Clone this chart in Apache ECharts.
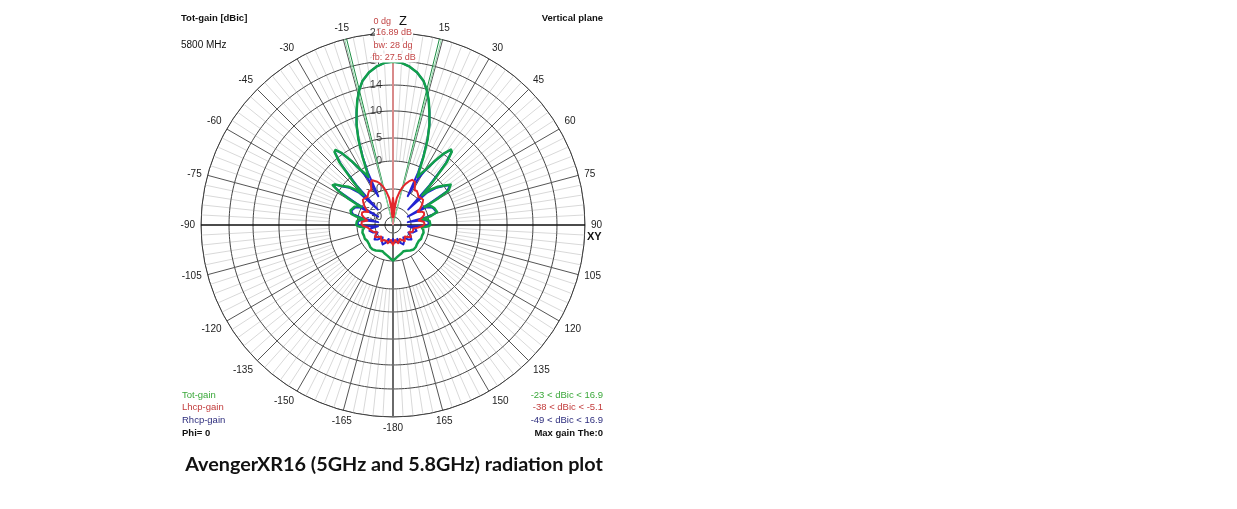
<!DOCTYPE html>
<html><head><meta charset="utf-8">
<script src="https://cdn.jsdelivr.net/npm/echarts@6/dist/echarts.min.js"></script>
<style>html,body{margin:0;padding:0;background:#fff}#c{width:1237px;height:509px}</style>
</head><body><div id="c"></div>
<script>
// ---------------- DATA ----------------
// Ring values of the log (ARRL-like) radial scale, in dBic
const RING_DB = [20, 17, 14, 10, 5, 0, -10, -20, -30];
const RING_LABELS = ['20', '17', '14', '10', '5', '0', '-10', '-20', '-30'];

// Angles (deg, 0 = Z / zenith, clockwise) used by Tot-gain and Rhcp-gain
const TOT_ANGLE = [
  -180,-175,-170,-167,-163,-158,-152,-146,-140,-134,
  -128,-122,-116,-110,-104,-99,-95,-92.5,-90,-87,
  -84,-81,-79,-77,-75,-73.5,-71,-68,-65,-62,
  -60.5,-59.5,-58,-56.5,-55,-52.5,-49.5,-46.5,-44.5,-42.5,
  -40.5,-38.7,-37.5,-35.5,-33,-30.5,-28.5,-27,-25.5,-24,
  -22,-20,-18,-16,-14,-12,-9,-6,-3,
  0,3,6,9,12,14,16,18,20,22,
  24,25.5,27,28.5,30.5,33,35.5,37.5,38.7,40.5,
  42.5,44.5,46.5,49.5,52.5,55,56.5,58,59.5,60.5,
  62,65,68,71,73.5,75,77,79,81,84,
  87,90,92.5,95,99,104,110,116,122,128,
  134,140,146,152,158,163,167,170,175,180
];
// Tot-gain [dBic]
const TOT_GAIN = [
  -10.3,-11.5,-12.6,-12.8,-13.6,-14.3,-13.8,-12.9,-12.3,-12.4,
  -13.0,-13.2,-12.6,-12.8,-12.5,-13.0,-14.0,-11.0,-9.7,-9.4,
  -9.9,-11.1,-13.5,-9.5,-7.4,-6.9,-6.8,-7.2,-7.6,-8.3,
  -9.9,-4.5,0.2,1.8,1.5,0.0,-1.8,-4.5,-7.9,-1.5,
  4.0,6.2,6.4,5.3,2.7,0.1,-2.0,-3.6,-0.5,2.5,
  6.0,8.6,10.6,12.4,13.9,14.9,15.8,16.4,16.8,
  16.9,16.8,16.4,15.8,14.9,13.9,12.4,10.6,8.6,6.0,
  2.5,-0.5,-3.6,-2.0,0.0,2.6,5.2,6.5,6.3,4.2,
  -1.5,-7.9,-4.5,-1.8,0.2,1.4,1.6,0.4,-4.5,-9.9,
  -8.2,-7.4,-6.9,-6.5,-6.4,-7.0,-9.2,-13.5,-11.0,-9.7,
  -9.2,-9.5,-11.0,-14.0,-13.0,-12.5,-12.8,-12.6,-13.2,-13.0,
  -12.4,-12.2,-12.9,-13.8,-14.3,-13.6,-12.8,-12.6,-11.5,-10.3
];
// Rhcp-gain [dBic]
const RHCP_GAIN = [
  -24.0,-21.0,-19.5,-20.5,-23.5,-19.5,-17.8,-19.0,-22.0,-18.5,
  -17.0,-18.5,-21.0,-18.0,-16.5,-17.5,-23.0,-13.0,-10.4,-10.0,
  -10.5,-12.5,-23.0,-11.5,-8.0,-7.3,-7.1,-7.5,-8.0,-9.6,
  -21.0,-7.5,-0.3,1.7,1.4,-0.2,-2.3,-6.0,-18.0,-3.5,
  3.6,6.1,6.3,5.2,2.6,-0.3,-4.0,-12.0,-2.0,2.2,
  5.9,8.6,10.6,12.4,13.9,14.9,15.8,16.4,16.8,
  16.9,16.8,16.4,15.8,14.9,13.9,12.4,10.6,8.6,5.9,
  2.2,-2.0,-12.0,-4.0,-0.4,2.5,5.1,6.4,6.2,3.8,
  -3.5,-18.0,-6.0,-2.3,0.0,1.3,1.5,-0.1,-7.5,-21.0,
  -9.6,-7.8,-7.2,-6.8,-6.7,-7.6,-11.0,-23.0,-12.5,-10.3,
  -9.8,-10.2,-12.8,-23.0,-17.5,-16.5,-18.0,-21.0,-18.5,-17.0,
  -18.5,-22.0,-19.0,-17.8,-19.5,-23.5,-20.5,-19.5,-21.0,-24.0
];
// Lhcp-gain angles and values
const LHCP_ANGLE = [
  -180,-176,-172,-168,-164,-159,-154,-149,-144,-139,
  -134,-129,-124,-119,-114,-109,-104,-100,-96,-92,
  -88,-84,-80,-76,-72,-68,-65,-62,-59,-56,
  -53,-50,-46,-42,-38.5,-35,-32,-29.5,-27,-25,
  -23,-20,-17,-14,-11,-8,-6,-4.5,-3,-1.5,
  0,1.5,3,4.5,6,8,11,14,17,20,
  23,25,27,29.5,32,35,38.5,42,46,50,
  53,56,59,62,65,68,72,76,80,84,
  88,92,96,100,104,109,114,119,124,129,
  134,139,144,149,154,159,164,168,172,176,
  180
];
const LHCP_GAIN = [
  -19.0,-20.5,-23.0,-21.0,-19.5,-21.0,-22.5,-20.5,-19.0,-20.0,
  -21.5,-19.5,-18.0,-19.0,-20.5,-18.5,-17.5,-18.5,-16.0,-13.5,
  -12.5,-12.6,-15.5,-13.5,-11.8,-11.5,-12.5,-14.5,-12.5,-10.8,
  -9.6,-8.8,-9.0,-9.3,-8.6,-8.0,-8.2,-7.0,-5.7,-5.2,
  -5.4,-6.4,-7.5,-9.0,-11.5,-15.0,-20.0,-30.0,-24.0,-17.5,
  -15.0,-17.5,-24.0,-30.0,-20.0,-15.0,-11.5,-9.0,-7.5,-6.3,
  -5.3,-5.1,-5.6,-7.0,-8.2,-8.0,-8.6,-9.3,-9.0,-8.8,
  -9.6,-10.8,-12.5,-14.5,-12.5,-11.5,-11.8,-13.5,-15.5,-12.8,
  -12.5,-13.5,-16.0,-18.5,-17.5,-18.5,-20.5,-19.0,-18.0,-19.5,
  -21.5,-20.0,-19.0,-20.5,-22.5,-21.0,-19.5,-21.0,-23.0,-20.5,
  -19.0
];
const BEAMWIDTH = 28;      // dg
const MAX_GAIN = 16.89;    // dB
const FB_RATIO = 27.5;     // dB
const LEGEND_NAMES = ['Tot-gain', 'Lhcp-gain', 'Rhcp-gain'];
const LEGEND_RANGES = ['-23 < dBic < 16.9', '-38 < dBic < -5.1', '-49 < dBic < 16.9'];

// ---------------- SCALE (log-like radial scale of the plot) ----------------
const RING_FRAC = [1, 0.854, 0.729, 0.594, 0.453, 0.333, 0.1875, 0.094, 0.042];
function toR(db) {
  const n = RING_DB.length;
  if (db >= RING_DB[0]) {
    const s = (RING_FRAC[0] - RING_FRAC[1]) / (RING_DB[0] - RING_DB[1]);
    return RING_FRAC[0] + (db - RING_DB[0]) * s;
  }
  for (let i = 0; i < n - 1; i++) {
    if (db >= RING_DB[i + 1]) {
      const t = (db - RING_DB[i + 1]) / (RING_DB[i] - RING_DB[i + 1]);
      return RING_FRAC[i + 1] + t * (RING_FRAC[i] - RING_FRAC[i + 1]);
    }
  }
  return Math.max(0, RING_FRAC[n - 1] * (db + 50) / 20);
}
const curve = (ang, vals) => ang.map((a, i) => [toR(vals[i]), a]);

// ---------------- GRID ----------------
const gridSeries = [];
RING_DB.forEach(db => {
  const pts = [];
  for (let a = -180; a <= 180; a += 1) pts.push([toR(db), a]);
  gridSeries.push({type: 'line', coordinateSystem: 'polar', data: pts, symbol: 'none', silent: true,
    z: 1, lineStyle: {color: '#444', width: 1}, animation: false});
});
const light = [], dark = [];
for (let a = -177; a <= 180; a += 3) {
  if (a % 15 === 0) continue;
  light.push([toR(0), a], [1, a], ['-', '-']);
}
for (let a = -165; a < 180; a += 15) {
  if (a === 0 || a === 90 || a === -90) continue;
  dark.push([toR(-10), a], [1, a], ['-', '-']);
}
gridSeries.push({type: 'line', coordinateSystem: 'polar', data: light, symbol: 'none', silent: true, connectNulls: false,
  z: 0, lineStyle: {color: '#d9d9d9', width: 1}, animation: false});
gridSeries.push({type: 'line', coordinateSystem: 'polar', data: dark, symbol: 'none', silent: true, connectNulls: false,
  z: 1, lineStyle: {color: '#555', width: 1}, animation: false});
// axes through centre
gridSeries.push({type: 'line', coordinateSystem: 'polar', data: [[1, -90], [0, 0], [1, 90]], symbol: 'none', silent: true,
  z: 2, lineStyle: {color: '#111', width: 1.5}, animation: false});
gridSeries.push({type: 'line', coordinateSystem: 'polar', data: [[0, 0], [1, 180]], symbol: 'none', silent: true,
  z: 2, lineStyle: {color: '#6a6a6a', width: 2}, animation: false});
// beam-width markers (+-bw/2) and max-gain marker
const half = BEAMWIDTH / 2;
[[-half, '#1f8f45'], [-half - 0.6, '#8fd6a6'], [half, '#1f8f45'], [half + 0.6, '#8fd6a6']].forEach(([a, c]) => {
  gridSeries.push({type: 'line', coordinateSystem: 'polar', data: [[0, 0], [1.07, a]], symbol: 'none', silent: true,
    clip: false, z: 3, lineStyle: {color: c, width: 1}, animation: false});
});
gridSeries.push({type: 'line', coordinateSystem: 'polar', data: [[0, 0], [toR(MAX_GAIN) + 0.035, 0]], symbol: 'none', silent: true,
  clip: false, z: 3, lineStyle: {color: '#d98a8a', width: 2}, animation: false});
// ring labels
gridSeries.push({type: 'scatter', coordinateSystem: 'polar', symbolSize: 0, silent: true, z: 2,
  data: RING_DB.map(db => [toR(db), 0]),
  label: {show: true, position: 'left', distance: 11, color: '#111', fontSize: 11, fontFamily: 'Liberation Sans',
    formatter: p => RING_LABELS[p.dataIndex]}, animation: false});

const curveSeries = [
  {name: 'Rhcp-gain', data: curve(TOT_ANGLE, RHCP_GAIN), color: '#2323d2', width: 2, z: 4},
  {name: 'Tot-gain', data: curve(TOT_ANGLE, TOT_GAIN), color: '#11a04a', width: 2.5, z: 5},
  {name: 'Lhcp-gain', data: curve(LHCP_ANGLE, LHCP_GAIN), color: '#e3262b', width: 2, z: 6}
].map(s => ({type: 'line', coordinateSystem: 'polar', name: s.name, data: s.data, symbol: 'none', z: s.z,
  lineStyle: {color: s.color, width: s.width, join: 'round', cap: 'round'}, clip: false, animation: false}));

// ---------------- TEXT ----------------
const small = 'Liberation Sans';
function txt(x, y, text, o) {
  return Object.assign({type: 'text', x: x, y: y, z: 20, silent: true,
    style: Object.assign({text: text, fill: '#111', font: '9.5px "' + small + '"', align: 'left', verticalAlign: 'middle'}, o || {})});
}
const cap = 'AvengerXR16 (5GHz and 5.8GHz) radiation plot';
let capSize = 18;
try {
  const ctx = document.createElement('canvas').getContext('2d');
  ctx.font = 'bold 18px Lato';
  const w = ctx.measureText(cap).width;
  capSize = 18 * 418 / w;
} catch (e) {}
const redT = {fill: '#c24646', font: '9px "' + small + '"', align: 'center', backgroundColor: '#fff', padding: [0, 1]};
const graphics = [
  txt(181, 18, 'Tot-gain [dBic]', {font: 'bold 9.5px "' + small + '"'}),
  txt(181, 45, '5800 MHz', {font: '10px "' + small + '"'}),
  txt(603, 18, 'Vertical plane', {font: 'bold 9.5px "' + small + '"', align: 'right'}),
  txt(392, 22, '0 dg', Object.assign({}, redT, {align: 'right', backgroundColor: null})),
  txt(399, 21, 'Z', {font: '13px "' + small + '"', fill: '#111'}),
  txt(394, 33, MAX_GAIN.toFixed(2) + ' dB', redT),
  txt(393, 46, 'bw: ' + BEAMWIDTH + ' dg', redT),
  txt(394, 58, 'fb: ' + FB_RATIO + ' dB', redT),
  txt(587, 237, 'XY', {font: 'bold 11px "' + small + '"'}),
  txt(182, 395, LEGEND_NAMES[0], {fill: '#3aa83a'}),
  txt(182, 407, LEGEND_NAMES[1], {fill: '#c23c3c'}),
  txt(182, 420, LEGEND_NAMES[2], {fill: '#2d2d7d'}),
  txt(182, 433, 'Phi= 0', {font: 'bold 9.5px "' + small + '"'}),
  txt(603, 395, LEGEND_RANGES[0], {fill: '#3aa83a', align: 'right'}),
  txt(603, 407, LEGEND_RANGES[1], {fill: '#c23c3c', align: 'right'}),
  txt(603, 420, LEGEND_RANGES[2], {fill: '#2d2d7d', align: 'right'}),
  txt(603, 433, 'Max gain The:0', {font: 'bold 9.5px "' + small + '"', align: 'right'}),
  txt(394, 465, cap, {font: 'bold ' + capSize.toFixed(2) + 'px Lato', align: 'center', fill: '#111'})
];

const chart = echarts.init(document.getElementById('c'), null, {renderer: 'canvas'});
chart.setOption({
  backgroundColor: '#fff',
  animation: false,
  polar: {center: [393, 225], radius: 192},
  angleAxis: {
    type: 'value', min: -180, max: 180, interval: 15, startAngle: 270, clockwise: true,
    axisLine: {show: true, lineStyle: {color: '#333', width: 1}},
    axisTick: {show: false}, splitLine: {show: false},
    axisLabel: {margin: 6, color: '#222', fontSize: 10, fontFamily: small,
      formatter: v => (v === 0 ? '' : String(v))}
  },
  radiusAxis: {type: 'value', min: 0, max: 1, axisLine: {show: false}, axisTick: {show: false},
    axisLabel: {show: false}, splitLine: {show: false}},
  series: gridSeries.concat(curveSeries),
  graphic: graphics
});
</script></body></html>
